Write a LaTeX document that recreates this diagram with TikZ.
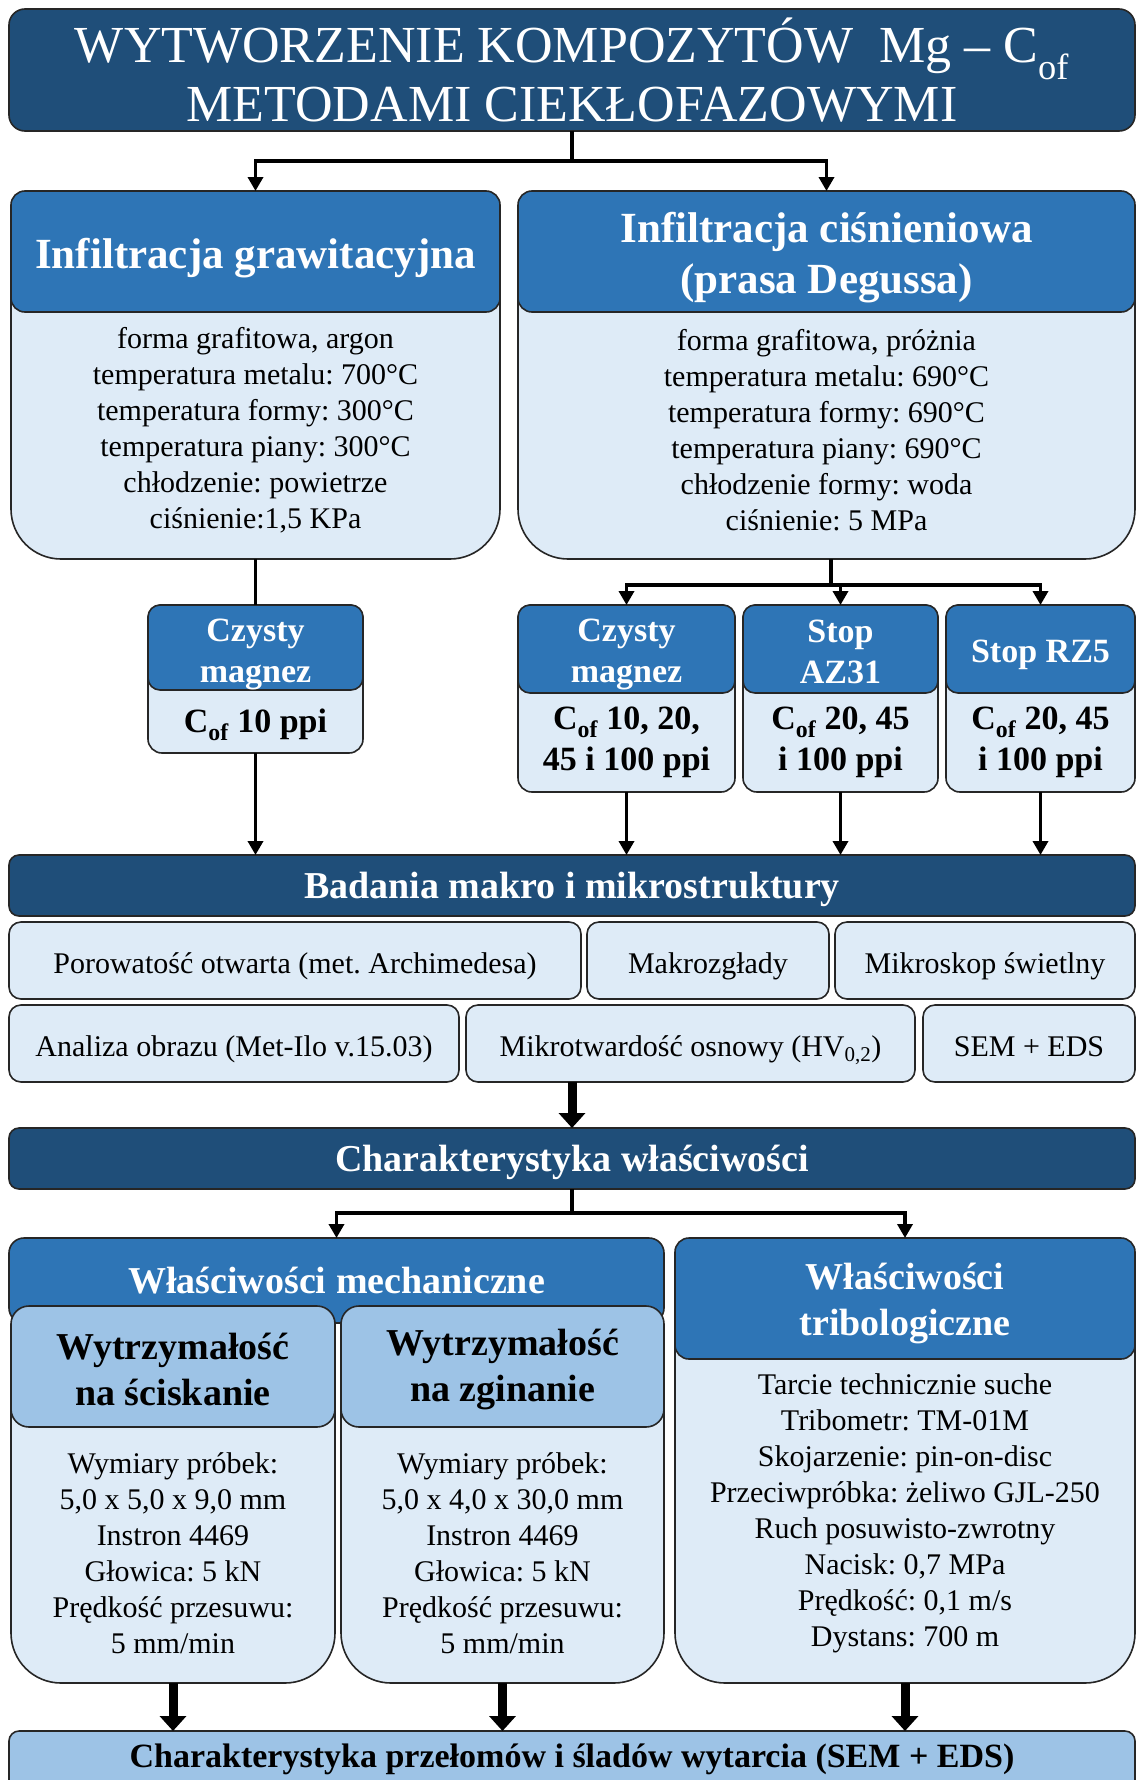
\documentclass[tikz,border=0pt]{standalone}
\usepackage{fontspec}
\setmainfont{Liberation Serif}
\usetikzlibrary{arrows.meta,calc}
\definecolor{cdark}{HTML}{1F4E79}
\definecolor{cmid}{HTML}{2E75B6}
\definecolor{clight}{HTML}{DEEBF7}
\definecolor{csub}{HTML}{9DC3E6}
\frenchspacing
\begin{document}
\begin{tikzpicture}[x=1pt,y=-1pt,
  box/.style={draw=black!85, line width=1.6pt, anchor=north west, inner sep=0pt, outer sep=0pt},
  bodybox/.style={box, fill=clight, rounded corners=50pt},
  headbox/.style={box, fill=cmid, rounded corners=14pt},
  htxt/.style={text=white, align=center, inner sep=0pt, font=\fontsize{43}{51}\selectfont\bfseries},
  smallbody/.style={box, fill=clight, rounded corners=14pt},
  smallhead/.style={box, fill=cmid, rounded corners=12pt},
  shtxt/.style={text=white, align=center, inner sep=0pt, font=\fontsize{34}{41}\selectfont\bfseries},
  bar/.style={box, fill=cdark, rounded corners=10pt, text=white, font=\fontsize{38}{44}\selectfont\bfseries, minimum width=1126pt, minimum height=61pt, text height=30pt, text depth=5pt},
  cell/.style={box, fill=clight, rounded corners=12pt, font=\fontsize{30}{36}\selectfont, minimum height=77pt, text height=28pt, text depth=3pt},
  subhead/.style={box, fill=csub, rounded corners=18pt, minimum height=121pt},
  subtxt/.style={align=center, inner sep=0pt, font=\fontsize{38}{46}\selectfont\bfseries},
  txt/.style={font=\fontsize{30}{36}\selectfont, align=center, inner sep=0pt},
  btxt/.style={font=\fontsize{34}{41}\selectfont\bfseries, align=center, inner sep=0pt},
  line/.style={line width=3.5pt},
  arr/.style={line width=3.5pt, -{Triangle[length=14pt,width=15pt]}},
  thickarr/.style={line width=9pt, -{Triangle[length=15pt,width=26pt]}}
]
\useasboundingbox[fill=white] (0,0) rectangle (1139,1780);

% title
\node[box, fill=cdark, rounded corners=16pt, minimum width=1126pt, minimum height=122pt,
  text=white, align=center, font=\fontsize{52}{59}\selectfont] (title) at (9,9)
  {WYTWORZENIE KOMPOZYTÓW\ \ Mg -- C\textsubscript{of}\\METODAMI CIEKŁOFAZOWYMI};

% infiltration boxes
\node[bodybox, minimum width=489pt, minimum height=368pt] (lbody) at (11,191) {};
\node[headbox, minimum width=489pt, minimum height=121pt] (lhead) at (11,191) {};
\node[htxt] (lheadt) at (255.5,258) {Infiltracja grawitacyjna};
\node[txt] (ltxt) at (255.5,430) {forma grafitowa, argon\\temperatura metalu: 700°C\\temperatura formy: 300°C\\temperatura piany: 300°C\\chłodzenie: powietrze\\ciśnienie:1,5 KPa};

\node[bodybox, minimum width=617pt, minimum height=368pt] (rbody) at (518,191) {};
\node[headbox, minimum width=617pt, minimum height=121pt] (rhead) at (518,191) {};
\node[htxt] (rheadt) at (826.5,258) {Infiltracja ciśnieniowa\\(prasa Degussa)};
\node[txt] (rtxt) at (826.5,430) {forma grafitowa, próżnia\\temperatura metalu: 690°C\\temperatura formy: 690°C\\temperatura piany: 690°C\\chłodzenie formy: woda\\ciśnienie: 5 MPa};

\coordinate (j1) at (572,161);
\draw[line] (title.south) -- (j1);
\draw[arr] (j1) -| (lhead.north);
\draw[arr] (j1) -| (rhead.north);

% small boxes
\node[smallbody, minimum width=215pt, minimum height=148pt] (lsb) at (148,605) {};
\node[smallhead, minimum width=215pt, minimum height=85pt] (lsh) at (148,605) {};
\node[shtxt] (lsht) at (255.5,654.5) {Czysty\\magnez};
\node[btxt] (lst) at (255.5,725) {C\textsubscript{of} 10 ppi};

\node[smallbody, minimum width=217pt, minimum height=187pt] (r1b) at (518,605) {};
\node[smallhead, minimum width=217pt, minimum height=88pt] (r1h) at (518,605) {};
\node[shtxt] (r1ht) at (626.5,654) {Czysty\\magnez};
\node[btxt] (r1t) at (626.5,742) {C\textsubscript{of} 10, 20,\\45 i 100 ppi};

\node[smallbody, minimum width=195pt, minimum height=187pt] (r2b) at (743,605) {};
\node[smallhead, minimum width=195pt, minimum height=88pt] (r2h) at (743,605) {};
\node[shtxt] (r2ht) at (840.5,652) {Stop\\AZ31};
\node[btxt] (r2t) at (840.5,742) {C\textsubscript{of} 20, 45\\i 100 ppi};

\node[smallbody, minimum width=189pt, minimum height=187pt] (r3b) at (946,605) {};
\node[smallhead, minimum width=189pt, minimum height=88pt] (r3h) at (946,605) {};
\node[shtxt] (r3ht) at (1040.5,655) {Stop RZ5};
\node[btxt] (r3t) at (1040.5,742) {C\textsubscript{of} 20, 45\\i 100 ppi};

\draw[line] (lbody.south -| lsh.north) -- (lsh.north);
\coordinate (j2) at (831,585);
\draw[line] (rbody.south -| j2) -- (j2);
\draw[arr] (j2) -| (r1h.north);
\draw[arr] (j2) -| (r2h.north);
\draw[arr] (j2) -| (r3h.north);

% badania
\node[bar] (bad) at (9,855) {Badania makro i mikrostruktury};
\draw[arr] (lsb.south) -- (lsb.south |- bad.north);
\draw[arr] (r1b.south) -- (r1b.south |- bad.north);
\draw[arr] (r2b.south) -- (r2b.south |- bad.north);
\draw[arr] (r3b.south) -- (r3b.south |- bad.north);

\node[cell, minimum width=572pt] (c11) at (9,922) {Porowatość otwarta (met. Archimedesa)};
\node[cell, minimum width=242pt] (c12) at (587,922) {Makrozgłady};
\node[cell, minimum width=300pt] (c13) at (835,922) {Mikroskop świetlny};
\node[cell, minimum width=450pt] (c21) at (9,1005) {Analiza obrazu (Met-Ilo v.15.03)};
\node[cell, minimum width=449pt] (c22) at (466,1005) {Mikrotwardość osnowy (HV\textsubscript{0,2})};
\node[cell, minimum width=212pt] (c23) at (923,1005) {SEM + EDS};

\node[bar] (char) at (9,1128) {Charakterystyka właściwości};
\draw[thickarr] (c22.south -| char.north) -- (char.north);

% mechanical
\node[box, fill=cmid, rounded corners=15pt, minimum width=655pt, minimum height=85pt] (mech) at (9,1238) {};
\node[font=\fontsize{38}{45}\selectfont\bfseries, text=white, inner sep=0pt] (mecht) at (336.5,1281) {Właściwości mechaniczne};

\node[bodybox, minimum width=324pt, minimum height=377pt] (s1b) at (11,1306) {};
\node[subhead, minimum width=324pt] (s1h) at (11,1306) {};
\node[subtxt] (s1ht) at (173,1369) {Wytrzymałość\\na ściskanie};
\node[txt] (s1t) at (173,1553) {Wymiary próbek:\\5,0 x 5,0 x 9,0 mm\\Instron 4469\\Głowica: 5 kN\\Prędkość przesuwu:\\5 mm/min};

\node[bodybox, minimum width=323pt, minimum height=377pt] (s2b) at (341,1306) {};
\node[subhead, minimum width=323pt] (s2h) at (341,1306) {};
\node[subtxt] (s2ht) at (502.5,1369) {Wytrzymałość\\na zginanie};
\node[txt] (s2t) at (502.5,1553) {Wymiary próbek:\\5,0 x 4,0 x 30,0 mm\\Instron 4469\\Głowica: 5 kN\\Prędkość przesuwu:\\5 mm/min};

% tribological
\node[bodybox, minimum width=460pt, minimum height=445pt] (tb) at (675,1238) {};
\node[headbox, minimum width=460pt, minimum height=121pt] (th) at (675,1238) {};
\node[htxt, font=\fontsize{38}{46}\selectfont\bfseries] (tht) at (905,1303) {Właściwości\\tribologiczne};
\node[txt] (tt) at (905,1513) {Tarcie technicznie suche\\Tribometr: TM-01M\\Skojarzenie: pin-on-disc\\Przeciwpróbka: żeliwo GJL-250\\Ruch posuwisto-zwrotny\\Nacisk: 0,7 MPa\\Prędkość: 0,1 m/s\\Dystans: 700 m};

\coordinate (j3) at (572,1213);
\draw[line] (char.south) -- (j3);
\draw[arr] (j3) -| (mech.north);
\draw[arr] (j3) -| (th.north);

% bottom
\node[box, fill=csub, rounded corners=10pt, minimum width=1126pt, minimum height=80pt] (bot) at (9,1731) {};
\node[btxt] (bott) at (572,1759) {Charakterystyka przełomów i śladów wytarcia (SEM + EDS)};
\draw[thickarr] (s1b.south) -- (s1b.south |- bot.north);
\draw[thickarr] (s2b.south) -- (s2b.south |- bot.north);
\draw[thickarr] (tb.south) -- (tb.south |- bot.north);
\end{tikzpicture}
\end{document}
